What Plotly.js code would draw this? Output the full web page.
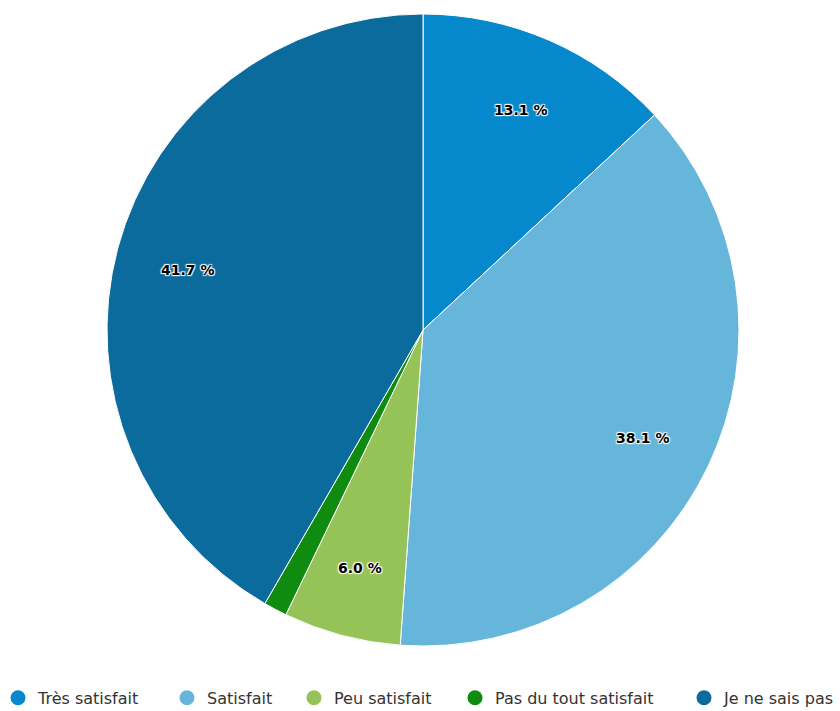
<!DOCTYPE html>
<html>
<head>
<meta charset="utf-8">
<script src="https://cdn.plot.ly/plotly-3.0.1.min.js"></script>
<style>html,body{margin:0;padding:0;background:#fff;}#chart{width:840px;height:711px;}</style>
</head>
<body>
<div id="chart"></div>
<script>
const categories = ["Très satisfait", "Satisfait", "Peu satisfait", "Pas du tout satisfait", "Je ne sais pas"];
const values = [13.1, 38.1, 6.0, 1.2, 41.7];
const colors = ["#0689cc", "#66b5da", "#96c357", "#0f8c10", "#0b6b9c"];
// left edge (px) of each legend entry
const legendLeft = [-2, 167, 294, 455, 684];

const FONT = "DejaVu Sans, Verdana, sans-serif";
const total = values.reduce((a, b) => a + b, 0);

const W = 840, H = 711;
const margin = {l: 107, r: 101, t: 14, b: 65};
const plotW = W - margin.l - margin.r;

const traces = [{
  type: "pie",
  labels: categories,
  values: values,
  sort: false,
  direction: "clockwise",
  rotation: 0,
  marker: {colors: colors, line: {color: "#ffffff", width: 1}},
  textinfo: "none",
  hoverinfo: "label+percent",
  showlegend: false
}];

const layout = {
  width: W, height: H,
  margin: Object.assign({autoexpand: false}, margin),
  paper_bgcolor: "#ffffff", plot_bgcolor: "#ffffff",
  font: {family: FONT, color: "#333333"},
  xaxis: {visible: false}, yaxis: {visible: false},
  showlegend: true
};

// legend proxies with circle symbols, one legend box per entry
categories.forEach((c, i) => {
  const key = i === 0 ? "legend" : "legend" + (i + 1);
  traces.push({
    type: "scatter", mode: "markers", x: [null], y: [null], name: c,
    marker: {symbol: "circle", size: 15, color: colors[i]},
    showlegend: true, hoverinfo: "skip", legend: key
  });
  layout[key] = {
    orientation: "h", x: (legendLeft[i] - margin.l) / plotW, xanchor: "left",
    y: -0.082, yanchor: "middle",
    font: {family: FONT, size: 16, color: "#333333"},
    bgcolor: "rgba(0,0,0,0)",
    itemclick: false, itemdoubleclick: false
  };
});

// data labels at 0.77R along each slice's mid-angle
const annotations = [];
let cum = 0;
values.forEach((v, i) => {
  const frac = v / total;
  const mid = (cum + frac / 2) * 2 * Math.PI;
  cum += frac;
  if (frac < 0.02) return;
  annotations.push({
    xref: "paper", yref: "paper",
    x: 0.5 + 0.5 * 0.77 * Math.sin(mid),
    y: 0.5 + 0.5 * 0.77 * Math.cos(mid),
    xanchor: "center", yanchor: "middle", yshift: -3,
    text: (frac * 100).toFixed(1) + " %",
    showarrow: false,
    font: {family: FONT, size: 14, color: "#000000", weight: 700,
           shadow: "1px 1px 1px #fff, -1px -1px 1px #fff, 1px -1px 1px #fff, -1px 1px 1px #fff"}
  });
});
layout.annotations = annotations;

Plotly.newPlot("chart", traces, layout, {displayModeBar: false, staticPlot: true});
</script>
</body>
</html>
